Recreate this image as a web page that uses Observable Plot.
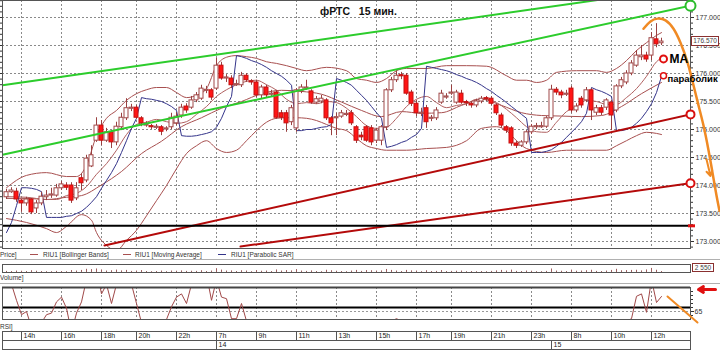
<!DOCTYPE html>
<html><head><meta charset="utf-8">
<script src="https://cdn.jsdelivr.net/npm/d3@7"></script>
<script src="https://cdn.jsdelivr.net/npm/@observablehq/plot@0.6"></script>
<style>
body{margin:0;background:#fff;}
#wrap{position:relative;width:720px;height:351px;overflow:hidden;background:#fff;font-family:"Liberation Sans",Arial,sans-serif;}
#wrap svg{position:absolute;left:0;}
.lbl{position:absolute;font-size:6.5px;line-height:7px;color:#333;white-space:nowrap;}
.dash{position:absolute;width:8px;height:0;border-top:1px solid #a05050;}
.sep{position:absolute;left:0;width:720px;height:0;border-top:1px solid #b0b0b0;}
.title{position:absolute;left:320px;top:5px;font-weight:bold;font-size:10.5px;color:#111;white-space:pre;}
.box{position:absolute;background:#fff;border:1px solid #8a3030;font-size:6.5px;line-height:8px;color:#444;text-align:center;}
</style></head><body>
<div id="wrap"></div>
<script>
// ---------- DATA ----------
const open = [173.79,173.88,173.89,173.73,173.68,173.75,173.59,173.68,173.79,173.82,
173.82,173.95,174.00,174.00,173.77,174.13,174.09,174.34,174.80,175.07,
174.80,174.95,174.77,175.04,175.20,175.38,175.39,175.20,175.07,175.05,
175.04,175.04,175.00,175.04,175.11,175.25,175.41,175.39,175.52,175.55,
175.70,175.70,175.73,176.14,175.91,175.91,175.80,175.79,175.96,175.86,
175.84,175.61,175.75,175.63,175.66,175.29,175.29,175.13,175.02,175.68,
175.73,175.68,175.48,175.50,175.52,175.20,175.21,175.23,175.27,175.29,
175.04,174.89,175.04,175.02,174.80,174.80,175.04,175.70,175.88,175.96,
175.96,175.66,175.46,175.29,175.38,175.20,175.20,175.48,175.57,175.64,
175.48,175.64,175.48,175.46,175.43,175.50,175.55,175.55,175.43,175.25,
175.04,175.02,174.75,174.71,174.77,174.95,175.05,175.05,175.05,175.20,
175.71,175.66,175.63,175.73,175.34,175.55,175.52,175.70,175.30,175.38,
175.39,175.48,175.34,175.77,175.84,176.00,176.14,176.29,176.32,176.32,
176.61,176.54];
const close = [173.88,173.91,173.75,173.68,173.75,173.52,173.68,173.80,173.82,173.84,
173.95,174.02,173.96,173.73,173.95,174.04,174.48,174.54,175.07,174.80,
174.95,174.77,175.05,175.21,175.38,175.39,175.21,175.11,175.09,175.04,
175.05,174.96,175.02,175.21,175.23,175.39,175.34,175.52,175.61,175.73,
175.71,175.57,176.14,175.91,175.93,175.79,175.82,175.96,175.88,175.84,
175.61,175.75,175.61,175.64,175.21,175.21,175.11,175.38,175.70,175.75,
175.75,175.48,175.54,175.55,175.20,175.11,175.23,175.29,175.29,175.11,
174.80,174.86,174.80,174.77,174.98,175.04,175.70,175.88,175.96,175.95,
175.64,175.46,175.29,175.30,175.13,175.20,175.34,175.64,175.59,175.66,
175.66,175.48,175.46,175.43,175.50,175.55,175.54,175.46,175.29,175.07,
174.98,174.75,174.71,174.77,174.95,175.05,175.05,175.07,175.20,175.71,
175.66,175.61,175.64,175.34,175.41,175.43,175.70,175.34,175.38,175.30,
175.52,175.25,175.77,175.88,176.00,176.18,176.32,176.32,176.25,176.63,
176.52,176.57];
const high = [173.93,173.96,173.95,173.75,173.79,173.77,173.73,173.88,173.91,173.95,
174.02,174.07,174.05,174.05,174.05,174.21,174.54,174.71,175.21,175.16,
175.02,174.98,175.13,175.29,175.55,175.45,175.43,175.23,175.14,175.09,
175.09,175.07,175.05,175.29,175.30,175.45,175.46,175.59,175.66,175.79,
175.77,175.73,176.27,176.20,175.98,175.96,175.88,176.02,176.00,175.89,
175.88,175.79,175.79,175.70,175.70,175.34,175.34,175.43,175.73,175.80,
175.88,175.71,175.59,175.61,175.55,175.23,175.29,175.34,175.34,175.34,
175.07,174.95,175.07,175.07,175.02,175.07,175.73,175.93,176.05,176.02,
176.00,175.70,175.52,175.38,175.43,175.25,175.39,175.70,175.64,175.79,
175.70,175.70,175.52,175.50,175.54,175.59,175.59,175.59,175.46,175.29,
175.07,175.05,174.79,174.80,174.98,175.09,175.11,175.13,175.23,175.79,
175.75,175.70,175.70,175.77,175.46,175.59,175.75,175.73,175.43,175.43,
175.55,175.52,175.80,175.93,176.05,176.23,176.41,176.50,176.38,176.73,
176.89,176.63];
const low = [173.75,173.86,173.70,173.52,173.63,173.48,173.50,173.64,173.73,173.77,
173.79,173.91,173.91,173.68,173.73,173.91,174.05,174.32,174.77,174.71,
174.77,174.66,174.71,174.98,175.16,175.32,175.18,175.05,175.04,175.00,
175.00,174.89,174.96,175.00,175.07,175.20,175.29,175.36,175.48,175.52,
175.64,175.52,175.70,175.88,175.84,175.73,175.77,175.75,175.84,175.79,
175.57,175.55,175.57,175.59,175.18,175.16,174.95,175.07,174.95,175.64,
175.70,175.45,175.45,175.46,175.16,174.89,174.89,175.20,175.23,175.07,
174.75,174.80,174.77,174.71,174.75,174.71,174.98,175.66,175.84,175.89,
175.61,175.41,175.23,175.23,175.02,175.14,175.16,175.45,175.54,175.61,
175.45,175.45,175.41,175.38,175.39,175.46,175.50,175.43,175.25,175.02,
174.93,174.70,174.66,174.68,174.73,174.91,175.00,175.02,175.02,175.16,
175.61,175.55,175.59,175.29,175.30,175.38,175.48,175.16,175.25,175.25,
175.34,174.98,175.30,175.73,175.80,175.96,176.11,176.23,176.20,176.23,
176.46,176.50];

// Bollinger bands
const upperIdx = [0,4,8,12,14,16,18,20,22,24,26,28,30,32,34,36,38,40,42,44,46,48,50,52,54,56,58,60,64,68,70,72,74,76,78,80,84,88,92,96,100,102,104,106,108,110,114,118,120,122,124,126,128,130,131];
const upperVal = [173.96,174.18,174.23,174.16,174.16,174.36,174.89,175.20,175.34,175.52,175.64,175.71,175.75,175.75,175.66,175.57,175.61,175.73,176.14,176.29,176.32,176.30,176.27,176.21,176.18,176.14,176.09,176.05,176.11,176.05,175.91,175.88,175.84,175.91,176.05,176.09,176.09,176.14,176.14,176.13,175.96,175.88,175.88,175.84,175.88,176.02,176.05,176.05,176.02,176.09,176.23,176.41,176.55,176.68,176.73];
const midIdx = [0,4,8,12,15,19,23,27,31,35,39,43,47,51,55,59,63,67,71,75,79,83,87,91,95,99,103,107,111,115,119,123,127,131];
const midVal = [173.77,173.77,173.75,173.79,173.82,174.01,174.25,174.57,174.79,175.05,175.21,175.38,175.50,175.64,175.70,175.68,175.63,175.49,175.34,175.23,175.32,175.29,175.30,175.43,175.54,175.43,175.30,175.25,175.24,175.23,175.25,175.41,175.64,175.84];
const lowerIdx = [0,4,8,10,12,15,17,18,20,22,24,26,28,30,32,34,36,38,40,42,44,46,48,50,52,54,56,58,60,62,64,66,68,70,72,74,76,78,80,84,88,92,95,98,100,102,104,108,112,116,120,122,124,126,128,130,131];
const lowerVal = [173.41,173.34,173.23,173.16,173.27,173.48,173.38,173.16,172.93,172.84,173.02,173.20,173.46,173.73,174.00,174.30,174.57,174.71,174.80,174.66,174.59,174.63,174.80,174.98,175.13,175.20,175.21,175.21,175.20,175.16,175.09,175.02,174.98,174.84,174.71,174.66,174.63,174.63,174.63,174.66,174.68,174.80,175.02,175.05,174.98,174.80,174.66,174.59,174.63,174.63,174.63,174.71,174.80,174.89,174.95,174.93,174.91];
// Moving average
const maIdx = [0,4,8,10,12,14,16,18,20,22,24,26,28,30,32,34,36,38,40,42,44,46,48,50,52,54,56,58,60,62,64,66,68,70,72,74,76,78,80,82,84,86,88,90,92,94,96,98,100,102,104,106,108,110,112,114,116,118,120,122,124,126,128,130,131];
const maVal = [173.80,173.79,173.75,173.75,173.82,173.86,173.98,174.20,174.39,174.63,174.91,175.09,175.13,175.18,175.14,175.11,175.14,175.27,175.41,175.59,175.71,175.80,175.86,175.88,175.80,175.70,175.54,175.46,175.48,175.46,175.50,175.48,175.38,175.23,175.07,175.02,175.04,175.20,175.41,175.54,175.59,175.48,175.39,175.43,175.46,175.54,175.54,175.48,175.36,175.21,175.05,174.96,174.95,175.13,175.32,175.41,175.52,175.50,175.45,175.45,175.57,175.73,175.95,176.21,176.28];
// Parabolic SAR (one per bar)
const sar = [173.16,173.34,173.64,173.96,173.96,173.95,173.93,173.89,173.43,173.43,
173.43,173.43,173.45,173.46,173.50,173.54,173.61,173.70,173.80,173.95,
174.09,174.23,174.39,174.59,174.80,175.02,175.20,175.57,175.55,175.54,
175.52,175.50,175.46,175.41,175.34,174.89,174.88,174.88,174.89,174.91,
174.93,174.96,175.04,175.20,175.41,175.59,176.32,176.30,176.27,176.23,
176.20,176.16,176.11,176.05,176.00,175.95,175.88,175.79,174.98,174.98,
175.00,175.00,175.02,175.04,175.05,175.09,175.91,175.88,175.84,175.79,
175.70,175.61,175.52,175.41,175.30,175.20,174.68,174.70,174.73,174.77,
174.80,174.86,174.91,175.02,176.13,176.11,176.09,176.07,176.05,176.02,
175.98,175.95,175.91,175.88,175.84,175.79,175.73,175.68,175.61,175.55,
175.48,175.41,175.34,175.27,175.20,174.59,174.59,174.59,174.61,174.64,
174.70,174.77,174.86,174.95,175.04,175.14,175.29,175.75,175.71,175.68,
175.64,175.59,174.98,174.98,175.00,175.04,175.11,175.20,175.32,175.46,
175.66,175.95];
const volume = [700,600,900,800,600,1100,800,600,500,500,
700,600,500,1200,900,1300,2000,1800,2200,1600,
900,1100,1500,1000,1300,700,900,1200,600,500,
600,900,500,900,800,1000,700,800,700,1100,
600,900,2400,1500,900,1000,600,1100,900,500,
1200,800,900,600,1600,900,1200,1000,1800,900,
700,1000,600,500,1400,1100,800,600,500,900,
1300,700,1200,1100,900,1000,1900,1300,900,600,
1300,1000,900,500,1100,600,700,1200,600,700,
800,900,500,600,500,600,500,700,1000,1300,
900,1500,700,600,900,800,500,500,700,2200,
900,800,600,1500,800,900,1100,1400,700,600,
900,1300,2000,1100,1200,1300,1400,1000,1600,2550,
1400,600];
const volumeLabel = 2550;
const rsi = [88,82,72,63,65,55,52,58,63,64,
71,74,67,52,64,71,85,88,92,76,
82,70,82,85,90,82,70,58,52,50,
48,45,60,68,74,76,70,82,85,88,
88,72,85,74,73,60.5,60.5,70,59,55,
45,50,45,46,35,34,32,42,55,56,
56,48,50,51,40,37,40,43,44,38,
30,31,30,29,36,39,55,59,60.5,59,
50,45,41,42,38,40,44,52,51,52,
52,48,47,46,48,50,49,47,42,37,
35,30,29,31,37,41,41,42,46,58,
56,54,55,47,49,50,56,48,49,47,
52,46,57,59,59,60.5,74.5,76,64.5,85,
70.6,74.4];
const rsiLevels = [65, 67.5];
const rsiLabelTicks = [65];

// axis ticks
const timeIdx = [3,11,19,26,34,42,50,58,66,74,82,89,97,105,113,121,129];
const timeLabels = ["14h","16h","18h","20h","22h","7h","9h","11h","13h","15h","17h","19h","21h","23h","8h","10h","12h"];
const dayIdx = [42,109];
const dayLabels = ["14","15"];
const priceTicks = [173,173.5,174,174.5,175,175.5,176,176.5,177];
const priceMinor = d3.range(172.9, 177.35, 0.1);

// trend lines & annotations (data coordinates: bar index, price)
const greenUpper = [{i:-0.8,v:175.79},{i:136.8,v:177.55}];
const greenLower = [{i:-0.8,v:174.55},{i:136.8,v:177.21}];
const redUpper = [{i:19.6,v:172.93},{i:136.8,v:175.27}];
const redLower = [{i:46.8,v:172.91},{i:136.8,v:174.04}];
const blackLevel = 173.28;
const orangeI = [127.4,128.8,130.2,131.8,133.4,134.8,136.2,137.4,138.4,139.4,140.4,141.2,142.0,142.6];
const orangeV = [176.80,176.93,176.98,176.95,176.80,176.55,176.20,175.79,175.43,175.07,174.63,174.23,173.82,173.55];
const rightMarks = [{i:136.8,v:175.27},{i:136.8,v:174.04}];
const greenMark = [{i:136.8,v:177.21}];
const maMark = {i:131.4,v:176.26,label:"MA"};
const sarMark = {i:131.4,v:175.96,label:"параболик"};

// ---------- BUILD ----------
const wrap = document.getElementById("wrap");
const XD = [-0.8, 136.8];
const font = "Liberation Sans, Arial, sans-serif";
const pts = (I, V) => I.map((i, k) => ({i, v: V[k]}));
const candles = open.map((o, i) => ({i, o, c: close[i], h: high[i], l: low[i]}));
const brown = "#a85050";
const dashGrid = {stroke: "#8a8a8a", strokeOpacity: 1, strokeDasharray: "2,2"};

const main = Plot.plot({
  width: 720, height: 248,
  marginLeft: 2, marginRight: 30, marginTop: 0, marginBottom: 0,
  x: {domain: XD, axis: null},
  y: {domain: [172.875, 177.3036], axis: null},
  style: {fontFamily: font, fontSize: "7px", color: "#333", background: "transparent", overflow: "visible"},
  marks: [
    Plot.gridY(priceTicks, dashGrid),
    Plot.gridX(timeIdx, dashGrid),
    Plot.line(pts(upperIdx, upperVal), {x: "i", y: "v", stroke: brown, strokeWidth: 1, curve: "monotone-x", clip: true}),
    Plot.line(pts(midIdx, midVal), {x: "i", y: "v", stroke: brown, strokeWidth: 1, curve: "monotone-x", clip: true}),
    Plot.line(pts(lowerIdx, lowerVal), {x: "i", y: "v", stroke: brown, strokeWidth: 1, curve: "monotone-x", clip: true}),
    Plot.line(pts(maIdx, maVal), {x: "i", y: "v", stroke: "#b06060", strokeWidth: 1, curve: "monotone-x", clip: true}),
    Plot.line(sar.map((v, i) => ({i, v})), {x: "i", y: "v", stroke: "#34348a", strokeWidth: 1, clip: true}),
    Plot.ruleX(candles, {x: "i", y1: "l", y2: "h", stroke: "#9a4040", strokeWidth: 1}),
    Plot.rect(candles, {
      x1: d => d.i - 0.4, x2: d => d.i + 0.4,
      y1: d => Math.abs(d.c - d.o) < 0.02 ? d.o - 0.01 : d.o,
      y2: d => Math.abs(d.c - d.o) < 0.02 ? d.o + 0.01 : d.c,
      fill: d => d.c >= d.o ? "#ffffff" : "#ff1414",
      stroke: d => d.c >= d.o ? "#a04848" : "#c41010", strokeWidth: 1
    }),
    Plot.line(greenUpper, {x: "i", y: "v", stroke: "#2ccc2c", strokeWidth: 2, clip: true}),
    Plot.line(greenLower, {x: "i", y: "v", stroke: "#2ccc2c", strokeWidth: 2, clip: true}),
    Plot.line(redUpper, {x: "i", y: "v", stroke: "#b40a0a", strokeWidth: 2, clip: true}),
    Plot.line(redLower, {x: "i", y: "v", stroke: "#b40a0a", strokeWidth: 2, clip: true}),
    Plot.ruleY([blackLevel], {stroke: "#000", strokeWidth: 2}),
    Plot.frame({stroke: "#555"}),
    Plot.axisY(priceTicks, {anchor: "right", tickSize: 3, tickPadding: 2, tickFormat: d => d.toFixed(3), fontSize: 7}),
    Plot.axisY(priceMinor, {anchor: "right", tickSize: 2, tickFormat: () => ""}),
    Plot.axisY(priceMinor, {anchor: "left", tickSize: 2, tickFormat: () => ""}),
    Plot.ruleY([blackLevel], {x1: 136.4, x2: 137.8, stroke: "#e01010", strokeWidth: 3}),
    Plot.dot(greenMark, {x: "i", y: "v", r: 5, stroke: "#2cbc2c", strokeWidth: 2, fill: "#fff"}),
    Plot.dot(rightMarks, {x: "i", y: "v", r: 4, stroke: "#d81010", strokeWidth: 2, fill: "#fff"}),
    Plot.line(pts(orangeI, orangeV), {x: "i", y: "v", stroke: "#f08a24", strokeWidth: 2.5, curve: "natural"}),
    Plot.arrow([{x1: 140.0, y1: 174.47, x2: 140.8, y2: 174.17}], {x1: "x1", y1: "y1", x2: "x2", y2: "y2", stroke: "#f08a24", strokeWidth: 2, headLength: 9}),
    Plot.dot([maMark], {x: "i", y: "v", r: 3.5, stroke: "#e01010", strokeWidth: 2, fill: "#fff"}),
    Plot.dot([sarMark], {x: "i", y: "v", r: 3, stroke: "#e01010", strokeWidth: 1.5, fill: "#fff"}),
    Plot.text([maMark], {x: "i", y: "v", text: "label", dx: 6, textAnchor: "start", fontWeight: "bold", fontSize: 12, fill: "#000"}),
    Plot.text([sarMark], {x: "i", y: "v", text: "label", dx: 4, dy: 3, textAnchor: "start", fontWeight: "bold", fontSize: 9.5, fill: "#000"})
  ]
});
main.style.top = "0px";
wrap.appendChild(main);

// title
const t = document.createElement("div");
t.className = "title";
t.textContent = "фРТС   15 мин.";
wrap.appendChild(t);

// current price box
const lastClose = close[close.length - 1];
const py = main.scale("y").apply(lastClose);
const pb = document.createElement("div");
pb.className = "box";
pb.style.cssText = `left:691px;top:${py - 5}px;width:26px;height:8px;`;
pb.textContent = d3.format(".3f")(lastClose);
wrap.appendChild(pb);

// legend row + separators
function lbl(text, left, top) {
  const d = document.createElement("div");
  d.className = "lbl"; d.textContent = text;
  d.style.left = left + "px"; d.style.top = top + "px";
  wrap.appendChild(d); return d;
}
function dash(left, top, color) {
  const d = document.createElement("div");
  d.className = "dash"; d.style.left = left + "px"; d.style.top = top + "px";
  d.style.borderTopColor = color; wrap.appendChild(d);
}
function sep(top) {
  const d = document.createElement("div");
  d.className = "sep"; d.style.top = top + "px"; wrap.appendChild(d);
}
lbl("Price]", 0, 251);
dash(30, 254, brown); lbl("RIU1 [Bollinger Bands]", 43, 251);
dash(123, 254, brown); lbl("RIU1 [Moving Average]", 135, 251);
dash(218, 254, "#34348a"); lbl("RIU1 [Parabolic SAR]", 231, 251);
sep(259);
sep(283);
lbl("Volume]", 0, 274);
lbl("RSI]", 0, 323);

// volume panel
const vol = Plot.plot({
  width: 720, height: 11,
  marginLeft: 2, marginRight: 30, marginTop: 2, marginBottom: 1,
  x: {domain: XD, axis: null},
  y: {domain: [0, 5000], axis: null},
  style: {background: "transparent"},
  marks: [
    Plot.ruleX(volume.map((v, i) => ({i, v})), {x: "i", y1: 0, y2: "v", stroke: "#a06060"}),
    Plot.frame({stroke: "#555"})
  ]
});
vol.style.top = "262px";
wrap.appendChild(vol);
const vb = document.createElement("div");
vb.className = "box";
vb.style.cssText = "left:692px;top:263px;width:20px;height:7px;line-height:7px;";
vb.textContent = d3.format(",")(volumeLabel).replace(",", " ");
wrap.appendChild(vb);

// RSI panel
const rsiPlot = Plot.plot({
  width: 720, height: 40,
  marginLeft: 2, marginRight: 30, marginTop: 3, marginBottom: 5,
  x: {domain: XD, axis: null},
  y: {domain: [60, 80], axis: null},
  style: {fontFamily: font, fontSize: "7px", color: "#333", background: "transparent", overflow: "visible"},
  marks: [
    Plot.gridX(timeIdx, dashGrid),
    Plot.ruleY([rsiLevels[0]], {stroke: "#999", strokeDasharray: "2,2"}),
    Plot.ruleY([rsiLevels[1]], {stroke: "#000", strokeWidth: 2}),
    Plot.line(rsi.map((v, i) => ({i, v})), {x: "i", y: "v", stroke: "#a04848", strokeWidth: 1, clip: true}),
    Plot.frame({stroke: "#555"}),
    Plot.ruleY([80], {stroke: "#444", strokeWidth: 2}),
    Plot.axisY(d3.range(62.5, 80, 2.5), {anchor: "right", tickSize: 2, tickFormat: () => ""}),
    Plot.axisY(rsiLabelTicks, {anchor: "right", tickSize: 3, tickPadding: 1, fontSize: 7}),
    Plot.line([{i: 132.2, v: 74.4}, {i: 138.2, v: 58.1}], {x: "i", y: "v", stroke: "#f08a24", strokeWidth: 2}),
    Plot.arrow([{x1: 141.8, y1: 78.75, x2: 138.4, y2: 78.75}], {x1: "x1", y1: "y1", x2: "x2", y2: "y2", stroke: "#e01010", strokeWidth: 3, headLength: 7})
  ]
});
rsiPlot.style.top = "284px";
wrap.appendChild(rsiPlot);

// time axis
const timeData = timeIdx.map((i, k) => ({i, label: timeLabels[k]}));
const dayData = dayIdx.map((i, k) => ({i, label: dayLabels[k]}));
const tax = Plot.plot({
  width: 720, height: 21,
  marginLeft: 2, marginRight: 30, marginTop: 1, marginBottom: 2,
  x: {domain: XD, axis: null},
  y: {domain: [0, 2], axis: null},
  style: {fontFamily: font, fontSize: "7px", color: "#222", background: "transparent"},
  marks: [
    Plot.frame({stroke: "#555"}),
    Plot.ruleY([1], {stroke: "#555"}),
    Plot.ruleX(timeData, {x: "i", y1: 1, y2: 2, stroke: "#555"}),
    Plot.text(timeData, {x: "i", y: 1.5, text: "label", textAnchor: "start", dx: 2, fontSize: 7, fill: "#222"}),
    Plot.ruleX(dayData, {x: "i", y1: 0, y2: 1, stroke: "#555"}),
    Plot.text(dayData, {x: "i", y: 0.5, text: "label", textAnchor: "start", dx: 2, fontSize: 7, fill: "#222"})
  ]
});
tax.style.top = "330px";
wrap.appendChild(tax);
</script>
</body></html>
